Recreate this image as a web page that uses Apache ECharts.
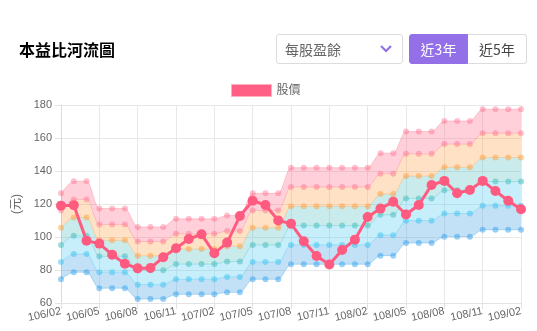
<!DOCTYPE html>
<html>
<head>
<meta charset="utf-8">
<script src="https://cdn.jsdelivr.net/npm/echarts@6/dist/echarts.min.js"></script>
<style>
  html, body { margin:0; padding:0; background:#fff; }
  body { width:537px; height:331px; overflow:hidden; position:relative; font-family:'Noto Sans CJK TC', sans-serif; }
  #chart { position:absolute; left:0; top:0; width:537px; height:331px; }
  .title { position:absolute; left:19px; top:38px; font-size:16px; font-weight:bold; color:#000; line-height:22px; }
  .select { position:absolute; left:276px; top:34px; width:127px; height:30px; border:1px solid #dcdcdc; border-radius:3px; box-sizing:border-box; font-size:14px; color:#666; line-height:28px; padding-left:8px; }
  .select svg { position:absolute; right:10px; top:10px; }
  .btns { position:absolute; left:409px; top:34px; height:30px; display:flex; }
  .btns span { display:block; width:59px; height:30px; box-sizing:border-box; font-size:14px; line-height:28px; text-align:center; border:1px solid #dcdcdc; color:#444; }
  .btns span.on { background:#9370e8; border-color:#9370e8; color:#fff; border-radius:3px 0 0 3px; }
  .btns span.off { border-left:none; border-radius:0 3px 3px 0; }
</style>
</head>
<body>
<div id="chart"></div>
<div class="title">本益比河流圖</div>
<div class="select">每股盈餘<svg width="12" height="8" viewBox="0 0 12 8"><polyline points="1,1 6,6 11,1" fill="none" stroke="#9370e8" stroke-width="2.2"/></svg></div>
<div class="btns"><span class="on">近3年</span><span class="off">近5年</span></div>
<script>
const categories = ['106/02','106/03','106/04','106/05','106/06','106/07','106/08','106/09','106/10','106/11','106/12',
  '107/01','107/02','107/03','107/04','107/05','107/06','107/07','107/08','107/09','107/10','107/11','107/12',
  '108/01','108/02','108/03','108/04','108/05','108/06','108/07','108/08','108/09','108/10','108/11','108/12',
  '109/01','109/02'];

const price = [119, 119.3, 97.8, 96, 89.3, 83.8, 81, 81.2, 87.7, 93.2, 98.8, 101.6, 90.1, 96.6, 112.7, 122, 119.4, 110,
  108.1, 97.4, 88.5, 83.3, 92.1, 98.4, 112.1, 117.2, 121.4, 113.6, 119.4, 131.5, 134, 126.5, 128.5, 134, 127.9, 122, 116.8];

const band1 = [74.4, 78.7, 78.7, 69.0, 69.0, 69.0, 62.4, 62.4, 62.4, 65.3, 65.3, 65.3, 65.3, 66.5, 66.5, 74.4, 74.4, 74.4,
  83.5, 83.5, 83.5, 83.5, 83.5, 83.5, 83.5, 88.7, 88.7, 96.4, 96.4, 96.4, 100.2, 100.2, 100.2, 104.4, 104.4, 104.4, 104.4];
const band2 = [84.8, 89.7, 89.7, 78.7, 78.7, 78.7, 71.1, 71.1, 71.1, 74.4, 74.4, 74.4, 74.4, 75.8, 75.8, 84.8, 84.8, 84.8,
  95.2, 95.2, 95.2, 95.2, 95.2, 95.2, 95.2, 101.1, 101.1, 109.9, 109.9, 109.9, 114.2, 114.2, 114.2, 119.0, 119.0, 119.0, 119.0];
const band3 = [95.2, 100.7, 100.7, 88.3, 88.3, 88.3, 79.9, 79.9, 79.9, 83.6, 83.6, 83.6, 83.6, 85.1, 85.1, 95.2, 95.2, 95.2,
  106.9, 106.9, 106.9, 106.9, 106.9, 106.9, 106.9, 113.5, 113.5, 123.4, 123.4, 123.4, 128.3, 128.3, 128.3, 133.6, 133.6, 133.6, 133.6];
const band4 = [105.6, 111.8, 111.8, 98.0, 98.0, 98.0, 88.6, 88.6, 88.6, 92.7, 92.7, 92.7, 92.7, 94.4, 94.4, 105.6, 105.6, 105.6,
  118.6, 118.6, 118.6, 118.6, 118.6, 118.6, 118.6, 126.0, 126.0, 136.9, 136.9, 136.9, 142.3, 142.3, 142.3, 148.2, 148.2, 148.2, 148.2];
const band5 = [116.1, 122.8, 122.8, 107.6, 107.6, 107.6, 97.3, 97.3, 97.3, 101.9, 101.9, 101.9, 101.9, 103.7, 103.7, 116.1, 116.1, 116.1,
  130.3, 130.3, 130.3, 130.3, 130.3, 130.3, 130.3, 138.4, 138.4, 150.4, 150.4, 150.4, 156.3, 156.3, 156.3, 162.9, 162.9, 162.9, 162.9];
const band6 = [126.5, 133.8, 133.8, 117.3, 117.3, 117.3, 106.1, 106.1, 106.1, 111.0, 111.0, 111.0, 111.0, 113.1, 113.1, 126.5, 126.5, 126.5,
  142.0, 142.0, 142.0, 142.0, 142.0, 142.0, 142.0, 150.8, 150.8, 163.9, 163.9, 163.9, 170.3, 170.3, 170.3, 177.5, 177.5, 177.5, 177.5];

const bandNames = ['band1', 'band2', 'band3', 'band4', 'band5', 'band6'];
const yTicks = { min: 60, max: 180, interval: 20 };

const bands = [band1, band2, band3, band4, band5, band6];
const dotColors = ['rgba(54,162,235,0.5)', 'rgba(60,195,240,0.5)', 'rgba(75,192,192,0.55)', 'rgba(255,159,64,0.5)', 'rgba(255,99,132,0.4)', 'rgba(255,99,132,0.4)'];
const lineColors = ['rgba(54,162,235,0.35)', 'rgba(60,195,240,0.35)', 'rgba(75,192,192,0.35)', 'rgba(255,159,64,0.35)', 'rgba(255,99,132,0.3)', 'rgba(255,99,132,0.3)'];
const areaColors = [null, 'rgba(54,155,228,0.3)', 'rgba(68,198,242,0.3)', 'rgba(75,190,188,0.3)', 'rgba(255,159,64,0.3)', 'rgba(255,99,132,0.3)'];

const series = bands.map((b, i) => {
  const s = {
    type: 'line', name: bandNames[i], stack: 'river', silent: true, z: 2,
    data: i === 0 ? b : b.map((v, j) => +(v - bands[i - 1][j]).toFixed(2)),
    symbol: 'circle', symbolSize: 6, smooth: 0.25, showAllSymbol: true,
    itemStyle: { color: dotColors[i] },
    lineStyle: { width: 1, color: lineColors[i] }
  };
  if (i > 0) s.areaStyle = { color: areaColors[i], opacity: 1 };
  return s;
});
series.push({
  type: 'line', name: '股價', data: price, z: 5,
  symbol: 'circle', symbolSize: 10, showAllSymbol: true,
  itemStyle: { color: '#ff5b80' },
  lineStyle: { width: 3, color: '#ff5b80' }
});

const font = "'Liberation Sans', 'Noto Sans CJK TC', sans-serif";
const chart = echarts.init(document.getElementById('chart'));
chart.setOption({
  animation: false,
  textStyle: { fontFamily: font },
  legend: {
    left: 231, top: 84, padding: 0, itemWidth: 40, itemHeight: 12, itemGap: 10,
    textStyle: { color: '#666', fontSize: 12, fontFamily: font },
    data: [{ name: '股價', icon: 'rect', itemStyle: { color: '#ff5f84', borderColor: '#ffb0c0', borderWidth: 1 } }]
  },
  grid: { left: 61, right: 16, top: 105, bottom: 28 },
  xAxis: {
    type: 'category', data: categories, boundaryGap: false,
    axisLine: { lineStyle: { color: '#e3e3e3' } },
    axisTick: { show: true, interval: 2, length: 6, lineStyle: { color: '#e3e3e3' } },
    axisLabel: { interval: 2, rotate: 12, color: '#666', fontSize: 11, margin: 8, fontFamily: font },
    splitLine: { show: true, interval: 2, lineStyle: { color: '#e8e8e8' } }
  },
  yAxis: {
    type: 'value', min: yTicks.min, max: yTicks.max, interval: yTicks.interval,
    name: '(元)', nameLocation: 'middle', nameGap: 36,
    nameTextStyle: { color: '#666', fontSize: 12, fontFamily: font },
    axisLine: { show: true, lineStyle: { color: '#dcdcdc' } },
    axisTick: { show: true, length: 6, lineStyle: { color: '#e3e3e3' } },
    axisLabel: { color: '#666', fontSize: 11, margin: 9, fontFamily: font },
    splitLine: { lineStyle: { color: '#e8e8e8' } }
  },
  series: series
});
</script>
</body>
</html>
